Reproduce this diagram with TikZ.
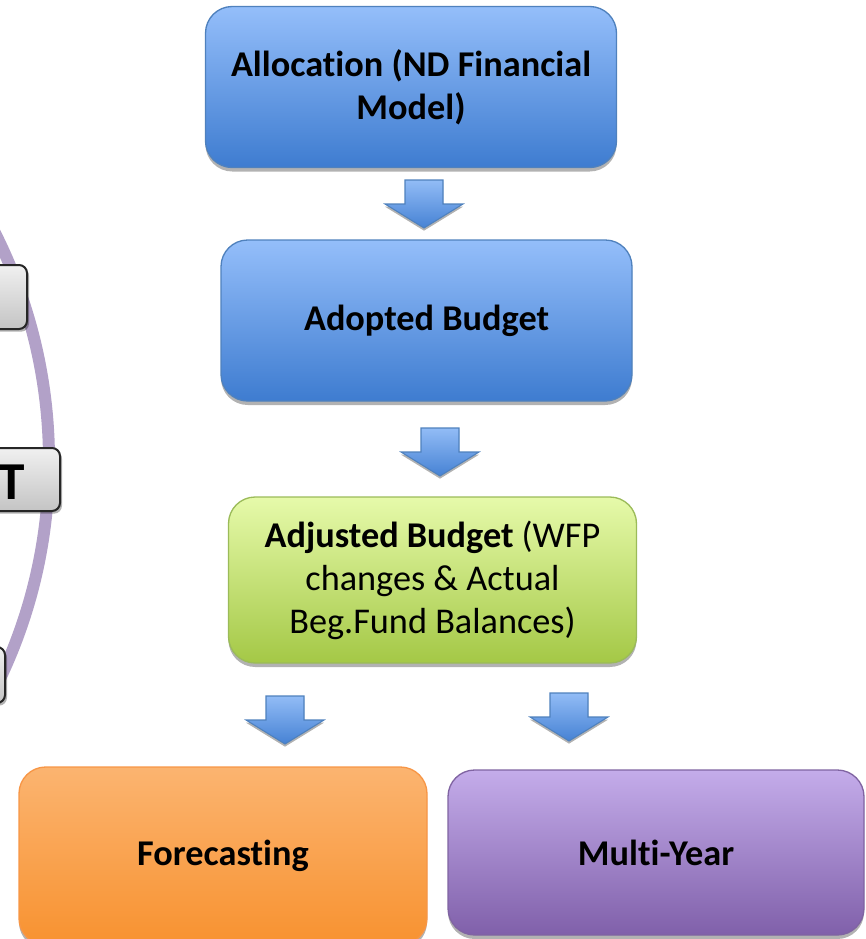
\documentclass[tikz,border=0pt]{standalone}
\usepackage{fontspec}
\setmainfont{Carlito}[Ligatures=NoCommon]
\usetikzlibrary{shadows}
\definecolor{blueTop}{RGB}{148,190,250}
\definecolor{blueBot}{RGB}{62,124,208}
\definecolor{blueLine}{RGB}{79,129,189}
\definecolor{greenTop}{RGB}{230,250,170}
\definecolor{greenBot}{RGB}{164,200,70}
\definecolor{greenLine}{RGB}{155,187,89}
\definecolor{orangeTop}{RGB}{251,180,112}
\definecolor{orangeBot}{RGB}{248,146,48}
\definecolor{orangeLine}{RGB}{247,150,70}
\definecolor{purpleTop}{RGB}{196,172,234}
\definecolor{purpleBot}{RGB}{128,96,170}
\definecolor{purpleLine}{RGB}{128,100,162}
\definecolor{arrTop}{RGB}{146,188,246}
\definecolor{arrBot}{RGB}{70,130,212}
\definecolor{arcCol}{RGB}{178,161,200}
\definecolor{greyTop}{RGB}{240,240,240}
\definecolor{greyBot}{RGB}{196,196,196}
\tikzset{
  basebox/.style={rounded corners=20pt, line width=1pt, align=center, inner sep=0pt,
    font=\bfseries\fontsize{27.2}{32.3}\selectfont,
    drop shadow={shadow xshift=0pt, shadow yshift=-3pt, opacity=0.3, fill=black}},
  bluebox/.style={basebox, draw=blueLine, top color=blueTop, bottom color=blueBot},
  greenbox/.style={basebox, draw=greenLine, top color=greenTop, bottom color=greenBot, font=\mdseries\fontsize{27.2}{32.3}\selectfont},
  orangebox/.style={basebox, draw=orangeLine, top color=orangeTop, bottom color=orangeBot},
  purplebox/.style={basebox, draw=purpleLine, top color=purpleTop, bottom color=purpleBot},
  greybox/.style={rounded corners=6pt, line width=1.5pt, draw=black!85, top color=greyTop, bottom color=greyBot, inner sep=0pt,
    drop shadow={shadow xshift=1.5pt, shadow yshift=-2pt, opacity=0.3, fill=black}},
  downarr/.pic={\path[draw=blueLine, line width=0.8pt, top color=arrTop, bottom color=arrBot,
      drop shadow={shadow xshift=0pt, shadow yshift=-2pt, opacity=0.3, fill=black}]
      (-19,0) -- (19,0) -- (19,24) -- (39,24) -- (0,48) -- (-39,24) -- (-19,24) -- cycle;}
}
\begin{document}
\begin{tikzpicture}[x=0.75pt, y=-0.75pt]
\useasboundingbox (0,0) rectangle (865,939);
\clip (0,0) rectangle (865,939);
% left partial cycle
\draw[arcCol, line width=9pt] (-458,461) circle [radius=507];
\node[greybox, minimum width=100*0.75pt, minimum height=64*0.75pt] (g1) at (-23,297) {};
\node[greybox, minimum width=110*0.75pt, minimum height=63*0.75pt] (g2) at (5,479.5) {};
\node[font=\bfseries\fontsize{40}{42}\selectfont, anchor=base east, inner sep=0pt] (tl) at (25,499) {T};
\node[greybox, minimum width=100*0.75pt, minimum height=56*0.75pt] (g3) at (-45,675) {};
% main flow
\node[bluebox, minimum width=411*0.75pt, minimum height=161*0.75pt] (alloc) at (411,87) {Allocation (ND Financial\\Model)};
\pic at (424,180) {downarr};
\node[bluebox, minimum width=411*0.75pt, minimum height=161*0.75pt] (adopt) at (426.5,320.5) {Adopted Budget};
\pic at (440,428) {downarr};
\node[greenbox, minimum width=408*0.75pt, minimum height=166*0.75pt] (adjust) at (432.5,580) {\textbf{Adjusted Budget} (WFP\\changes \& Actual\\Beg.Fund Balances)};
\pic at (285,696) {downarr};
\pic at (569,693) {downarr};
\node[orangebox, minimum width=408*0.75pt, minimum height=178*0.75pt] (fore) at (223,856) {Forecasting};
\node[purplebox, minimum width=416*0.75pt, minimum height=165*0.75pt] (multi) at (656,852.5) {Multi-Year};
\end{tikzpicture}
\end{document}
